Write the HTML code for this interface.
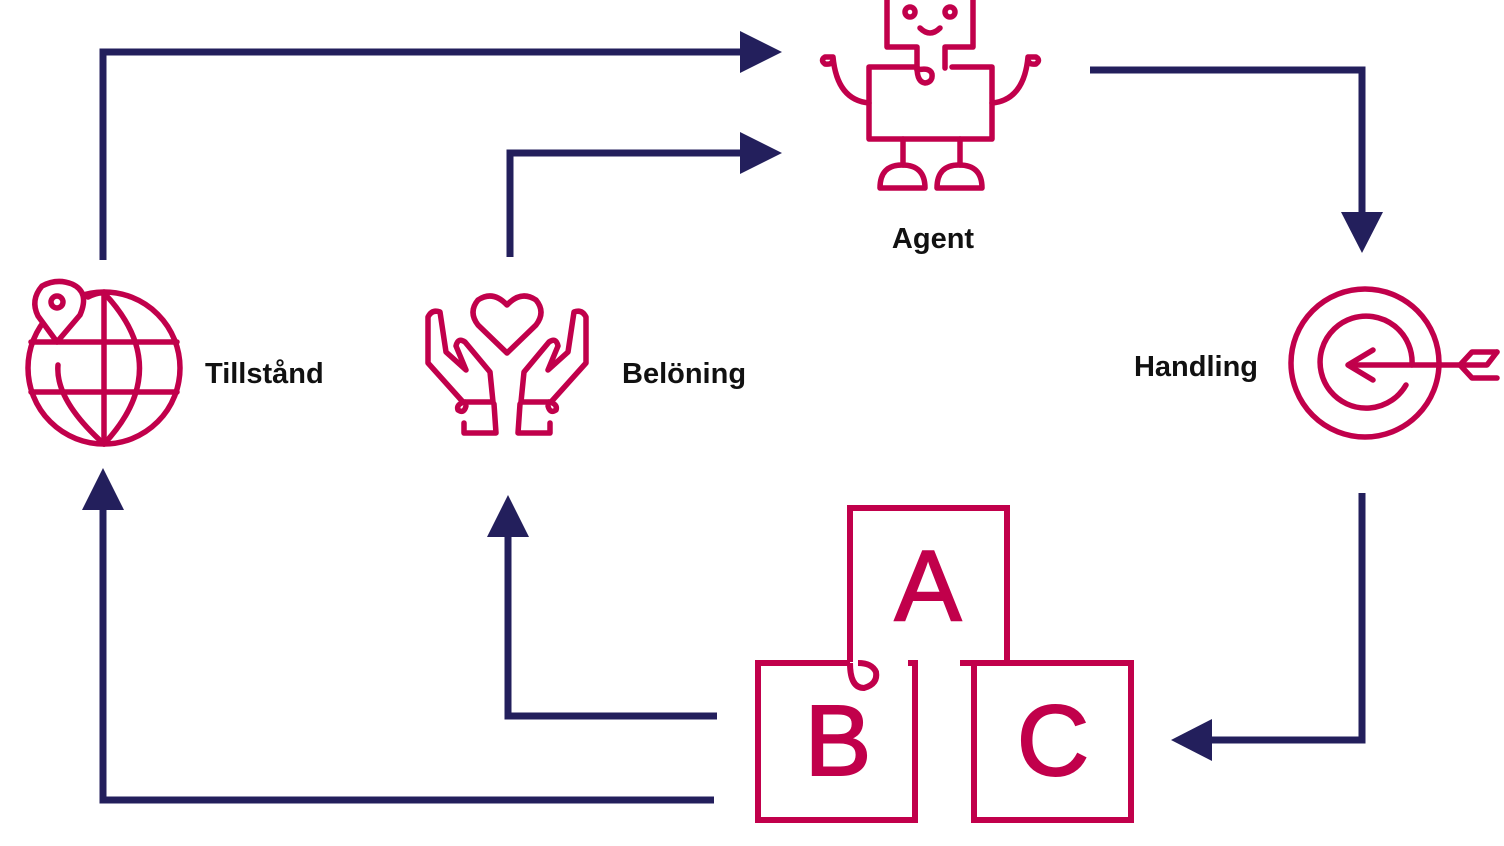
<!DOCTYPE html>
<html><head><meta charset="utf-8"><style>
html,body{margin:0;padding:0;background:#fff;}
svg{display:block}
text{font-family:"Liberation Sans",sans-serif;font-weight:bold;fill:#111;}
</style></head><body>
<svg width="1504" height="846" viewBox="0 0 1504 846">
<g fill="none" stroke="#231f5c" stroke-width="7">
<polyline points="103,260 103,52 745,52"/>
<polyline points="510,257 510,153 745,153"/>
<polyline points="1090,70 1362,70 1362,215"/>
<polyline points="1362,493 1362,740 1208,740"/>
<polyline points="714,800 103,800 103,505"/>
<polyline points="717,716 508,716 508,532"/>
</g>
<g fill="#231f5c">
<polygon points="740,31 782,52 740,73"/>
<polygon points="740,132 782,153 740,174"/>
<polygon points="1341,212 1383,212 1362,253"/>
<polygon points="1212,719 1212,761 1171,740"/>
<polygon points="82,510 124,510 103,468"/>
<polygon points="487,537 529,537 508,495"/>
</g>
<g fill="none" stroke="#c1004b" stroke-width="5.5" stroke-linecap="round" stroke-linejoin="round">
<!-- robot -->
<polyline points="887,0 887,47 917,47 917,70"/>
<polyline points="973,0 973,47 945,47 945,68"/>
<circle cx="910" cy="12" r="5"/><circle cx="950" cy="12" r="5"/>
<path d="M920,28 Q930,38 940,28"/>
<path d="M917,67 L869,67 L869,139 L992,139 L992,67 L952,67"/>
<path d="M917,67 Q917,82 925,83 Q933,82 932,74 Q930,67 917,70"/>
<path d="M869,103 Q837,100 833,57 M833,57 L825,57 Q820,60 825,64 Q832,65 833,60"/>
<path d="M992,103 Q1024,100 1028,57 M1028,57 L1036,57 Q1041,60 1036,64 Q1029,65 1028,60"/>
<path d="M903,139 L903,165 M960,139 L960,165"/>
<path d="M880,188 L925,188 Q925,165 902,165 Q880,165 880,188 Z"/>
<path d="M937,188 L982,188 Q982,165 959,165 Q937,165 937,188 Z"/>
<!-- hands -->
<path d="M507,353 L478,325 Q468,312 478,300 Q493,290 507,305 Q521,290 536,300 Q546,312 536,325 Z"/>
<path d="M463,402 L428,363 L428,317 Q432,309 440,312 L446,352 L466,370 L456,346 Q458,337 465,342 L490,372 L493,402 Z"/>
<path d="M465,402 Q456,404 458,410 Q464,414 466,406 M494,404 L496,433 L464,433 L464,423"/>
<path d="M551,402 L586,363 L586,317 Q582,309 574,312 L568,352 L548,370 L558,346 Q556,337 549,342 L524,372 L521,402 Z"/>
<path d="M549,402 Q558,404 556,410 Q550,414 548,406 M520,404 L518,433 L550,433 L550,423"/>
<!-- globe -->
<circle cx="104" cy="368" r="76"/>
<line x1="104" y1="292" x2="104" y2="444"/>
<path d="M104,293 Q175,368 104,444"/>
<path d="M104,444 Q55,400 58,365"/>
<path d="M88,297 Q98,292 104,293"/>
<line x1="31" y1="342" x2="177" y2="342"/><line x1="31" y1="392" x2="177" y2="392"/>
<path d="M57,342 L80,315 Q90,292 72,284 Q57,278 42,286 Q30,300 38,316 Z" fill="#fff"/>
<circle cx="57" cy="302" r="6"/>
<!-- target -->
<circle cx="1365" cy="363" r="74"/>
<path d="M1412,365 A46,46 0 1 0 1406,385"/>
<line x1="1350" y1="365" x2="1460" y2="365"/>
<polyline points="1373,350 1348,365 1373,380"/>
<polyline points="1497,352 1472,352 1460,365 1472,378 1497,378"/>
<path d="M1497,352 L1487,365 L1460,365"/>
</g>
<!-- blocks -->
<g fill="none" stroke="#c1004b" stroke-width="6">
<path d="M850,662 L850,508 L1007,508 L1007,663 L960,663"/>
<path d="M908,663 L915,663 L915,820 L758,820 L758,663 L850,663"/>
<path d="M850,663 Q850,688 864,688 Q878,684 876,672 Q872,663 858,663"/>
<rect x="974" y="663" width="157" height="157"/>
</g>
<g style="font-family:'Liberation Sans',sans-serif;font-size:100px">
<text x="928" y="620" text-anchor="middle" style="fill:#c1004b;font-weight:normal;stroke:#c1004b;stroke-width:2">A</text>
<text x="838" y="775" text-anchor="middle" style="fill:#c1004b;font-weight:normal;stroke:#c1004b;stroke-width:2">B</text>
<text x="1053" y="775" text-anchor="middle" style="fill:#c1004b;font-weight:normal;stroke:#c1004b;stroke-width:2">C</text>
</g>
<g font-size="29">
<text x="205" y="383">Tillstånd</text>
<text x="622" y="383">Belöning</text>
<text x="933" y="248" text-anchor="middle">Agent</text>
<text x="1258" y="376" text-anchor="end">Handling</text>
</g>
</svg>
</body></html>
